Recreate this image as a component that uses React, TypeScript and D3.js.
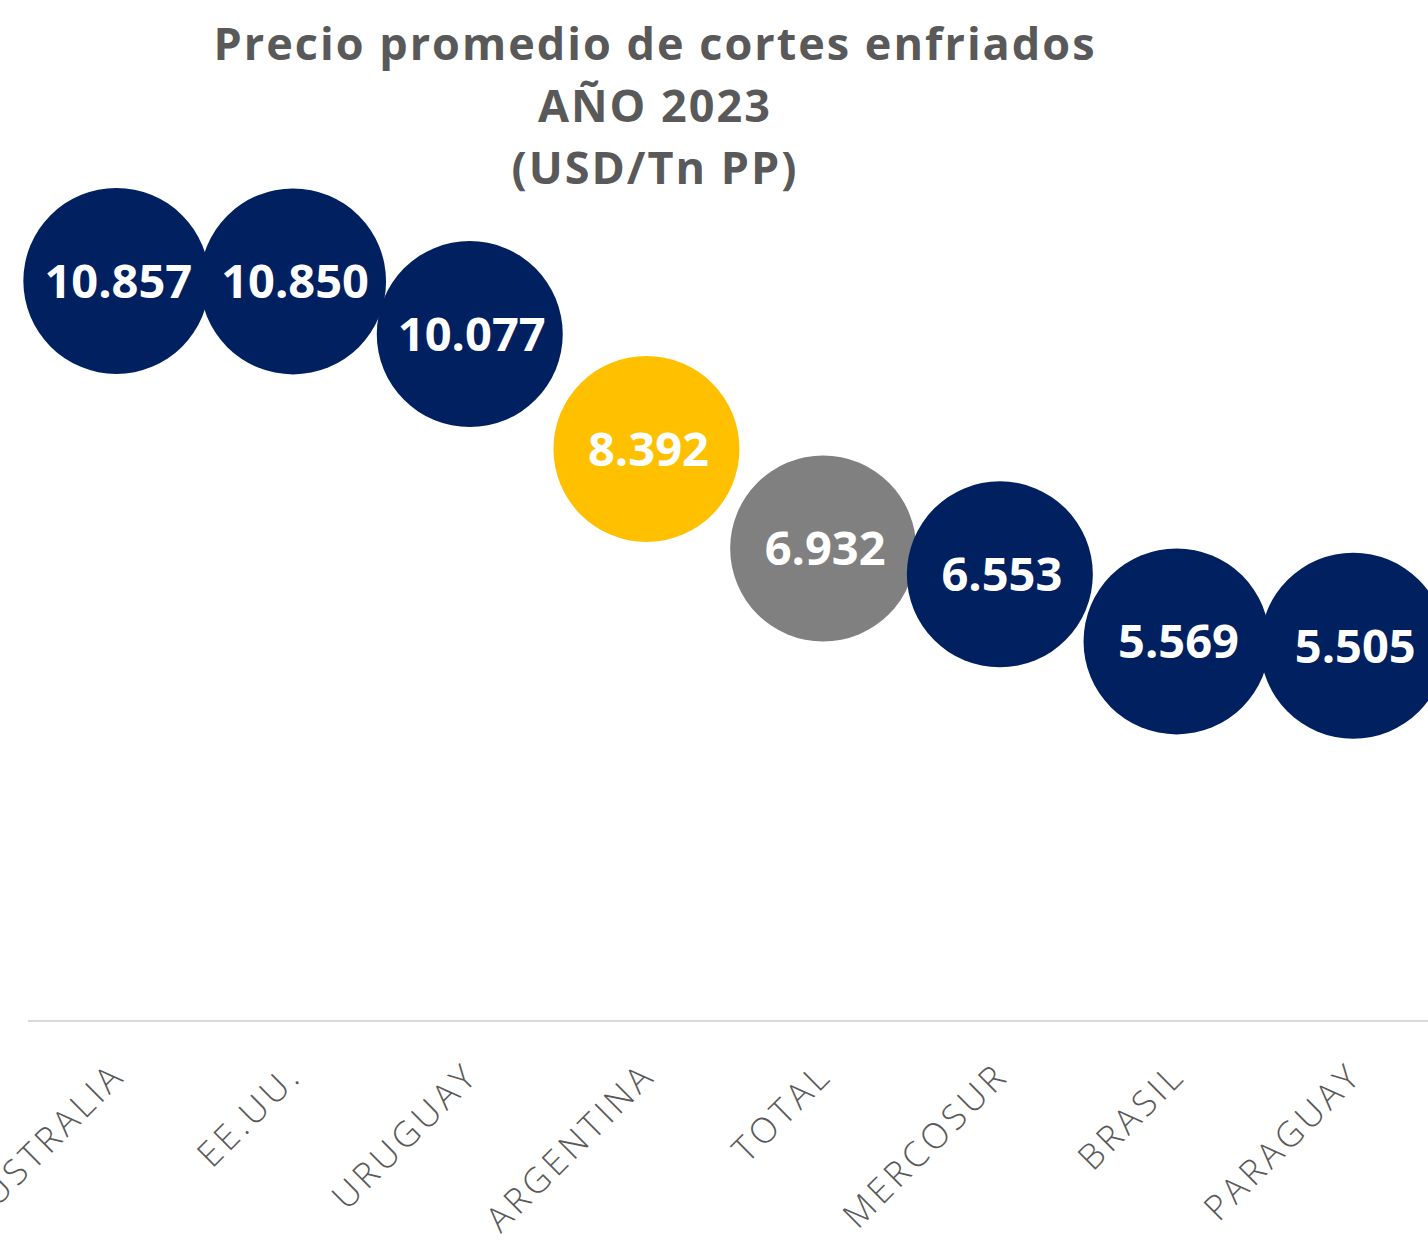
import React from "react";
import * as d3 from "d3";

const categories = ["AUSTRALIA", "EE.UU.", "URUGUAY", "ARGENTINA", "TOTAL", "MERCOSUR", "BRASIL", "PARAGUAY"];
const values = [10857, 10850, 10077, 8392, 6932, 6553, 5569, 5505];
const colors = ["#002060", "#002060", "#002060", "#FFC000", "#808080", "#002060", "#002060", "#002060"];
const titleLines = ["Precio promedio de cortes enfriados", "AÑO 2023", "(USD/Tn PP)"];

const W = 1428;
const H = 1243;

export default function App() {
  const x = d3.scaleBand<string>().domain(categories).range([28, 28 + 8 * 176.7]).padding(0);
  const y = d3.scaleLinear().domain([0, 12000]).range([1021, 203]);
  const r = 93;
  const fmt = (v: number) => d3.format(",")(v).replace(/,/g, ".");
  const font = "'Open Sans', 'DejaVu Sans', sans-serif";
  return (
    <svg width={W} height={H} style={{ position: "absolute", left: 0, top: 0, background: "#fff" }} fontFamily={font}>
      {titleLines.map((t, i) => (
        <text key={i} x={655} y={60 + i * 62} textAnchor="middle" fontSize={45} fontWeight={700} letterSpacing={2} fill="#595959">
          {t}
        </text>
      ))}
      <line x1={28} x2={W} y1={y(0)} y2={y(0)} stroke="#d9d9d9" strokeWidth={2} />
      {categories.map((c, i) => {
        const cx = (x(c) as number) + x.bandwidth() / 2;
        const cy = y(values[i]);
        return (
          <g key={c}>
            <circle cx={cx} cy={cy} r={r} fill={colors[i]} />
            <text x={cx + 2} y={cy} dy="0.36em" textAnchor="middle" fontSize={47} fontWeight={700} fill="#fff">
              {fmt(values[i])}
            </text>
          </g>
        );
      })}
      {categories.map((c) => {
        const cx = (x(c) as number) + x.bandwidth() / 2;
        return (
          <text
            key={"l" + c}
            transform={`translate(${cx + 2},${y(0) + 48}) rotate(-45)`}
            textAnchor="end"
            dy="0.35em"
            fontSize={35}
            fontWeight={300}
            letterSpacing={4}
            fill="#595959"
          >
            {c}
          </text>
        );
      })}
    </svg>
  );
}
